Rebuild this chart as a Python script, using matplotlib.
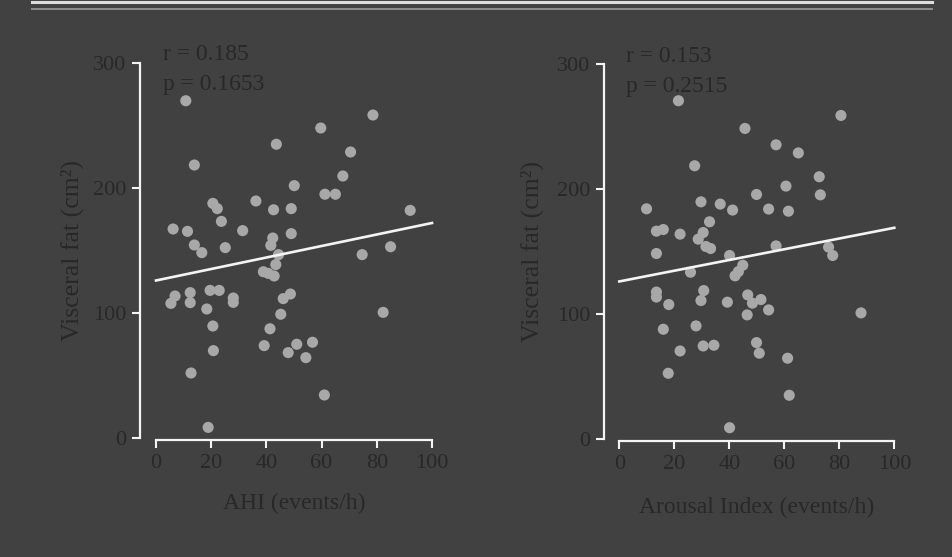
"""Visceral fat vs. AHI and arousal index: two scatter panels on a dark slide."""

import matplotlib

matplotlib.use("Agg")

import matplotlib.pyplot as plt
from matplotlib.lines import Line2D
import numpy as np

# Left panel: AHI (events/h) vs visceral fat (cm2)
ahi = [10.8, 78.6, 59.7, 43.6, 70.5, 13.9, 67.7, 50.1, 61.2, 65.0,
       36.2, 20.6, 22.2, 42.6, 49.0, 92.1, 23.7, 6.2, 11.4, 31.4,
       49.0, 42.3, 41.6, 13.9, 16.6, 25.1, 85.0, 74.7, 44.4, 43.4,
       38.9, 40.7, 42.8, 6.9, 5.4, 12.4, 12.4, 19.6, 22.9, 28.0,
       28.0, 18.4, 46.1, 48.7, 45.2, 82.3, 20.6, 41.3, 20.8, 39.2,
       51.0, 56.7, 47.9, 54.3, 12.7, 61.0, 18.9]
fat_ahi = [269.8, 258.4, 248.0, 235.0, 228.8, 218.4, 209.6, 201.9, 195.0, 195.0,
           189.6, 187.7, 183.5, 182.6, 183.5, 182.1, 173.3, 167.2, 165.3, 165.9,
           163.5, 160.0, 154.1, 154.4, 148.3, 152.3, 153.0, 146.7, 146.7, 138.7,
           133.0, 131.7, 129.6, 113.6, 107.7, 116.3, 108.3, 118.1, 118.1, 112.0,
           108.5, 103.2, 111.5, 115.2, 99.0, 100.5, 89.6, 87.4, 69.9, 73.9,
           75.0, 76.6, 68.3, 64.3, 52.0, 34.4, 8.5]

# Right panel: arousal index (events/h) vs visceral fat (cm2)
arousal = [21.5, 80.6, 45.7, 57.0, 65.1, 27.4, 72.7, 60.6, 73.1, 49.9,
           9.9, 29.7, 36.7, 41.2, 54.3, 61.5, 32.8, 13.5, 16.0, 22.1,
           30.5, 28.7, 31.5, 33.2, 13.5, 57.0, 76.1, 40.1, 77.6, 44.9,
           43.3, 42.1, 25.9, 13.5, 13.5, 18.0, 30.7, 29.7, 39.3, 46.7,
           48.4, 51.5, 46.5, 54.3, 87.9, 16.0, 27.9, 30.5, 34.4, 49.9,
           50.9, 22.1, 61.2, 17.8, 61.8, 40.1]
fat_arousal = [270.8, 259.0, 248.6, 235.5, 229.0, 218.7, 209.9, 202.4, 195.4, 195.7,
               184.2, 189.8, 188.0, 183.2, 184.0, 182.3, 173.8, 166.3, 167.6, 163.9,
               165.2, 159.9, 154.0, 152.4, 148.4, 154.5, 153.5, 146.8, 146.8, 139.0,
               133.9, 130.5, 133.4, 117.5, 113.5, 107.5, 118.7, 110.7, 109.4, 115.2,
               108.6, 111.5, 99.2, 103.2, 100.8, 87.7, 90.4, 74.3, 74.9, 77.0,
               68.5, 70.3, 64.5, 52.4, 34.8, 8.8]

# Regression lines as drawn on the slide (intercept, slope)
fit_ahi = (126.0, 0.46)
fit_arousal = (126.0, 0.43)

stats_ahi = ["r = 0.185", "p = 0.1653"]
stats_arousal = ["r = 0.153", "p = 0.2515"]

x_ticks = [0, 20, 40, 60, 80, 100]
y_ticks = [0, 100, 200, 300]

BG = "#414141"
TEXT = "#282828"
DOT = "#a8a8a8"
LINE = "#f4f4f4"

plt.rcParams["font.family"] = ["Liberation Serif", "DejaVu Serif"]

W, H = 952, 557
fig = plt.figure(figsize=(W / 100, H / 100), dpi=100)
fig.patch.set_facecolor(BG)

# decorative rules along the top of the slide
fig.add_artist(Line2D([32 / W, 932 / W], [1 - 2 / H, 1 - 2 / H],
                      color="#dcdcdc", linewidth=2.2, transform=fig.transFigure))
fig.add_artist(Line2D([32 / W, 932 / W], [1 - 9.3 / H, 1 - 9.3 / H],
                      color="#8e8e8e", linewidth=1.4, transform=fig.transFigure))


def px_rect(left, right, top, bottom):
    return [left / W, 1 - bottom / H, (right - left) / W, (bottom - top) / H]


def draw_panel(rect, xs, ys, fit, stats, xlabel, left_offset, label_x, xlabel_y):
    ax = fig.add_axes(rect)
    ax.set_facecolor("none")
    ax.set_xlim(0, 100)
    ax.set_ylim(0, 300)

    ax.scatter(xs, ys, s=64, color=DOT, edgecolors="none", clip_on=False, zorder=3)
    fx = np.array([0, 100])
    ax.plot(fx, fit[0] + fit[1] * fx, color=LINE, linewidth=1.9, clip_on=False, zorder=4)

    ax.text(2.6, 302, stats[0], fontsize=17, color=TEXT, va="baseline")
    ax.text(2.6, 278, stats[1], fontsize=17, color=TEXT, va="baseline")

    for side in ["top", "right"]:
        ax.spines[side].set_visible(False)
    ax.spines["left"].set_position(("outward", left_offset))
    ax.spines["bottom"].set_position(("outward", 1.4))
    ax.spines["left"].set_bounds(0, 300)
    ax.spines["bottom"].set_bounds(0, 100)
    for side in ["left", "bottom"]:
        ax.spines[side].set_color(LINE)
        ax.spines[side].set_linewidth(1.6)

    ax.set_xticks(x_ticks)
    ax.set_yticks(y_ticks)
    ax.tick_params(colors=LINE, labelcolor=TEXT, labelsize=16, length=6,
                   width=1.5, pad=4)

    ax.set_xlabel(xlabel, fontsize=17, color=TEXT)
    ax.xaxis.set_label_coords(0.5, xlabel_y)
    ax.set_ylabel("Visceral fat (cm²)", fontsize=18.5, color=TEXT)
    ax.yaxis.set_label_coords(label_x, 0.5)
    return ax


draw_panel(px_rect(156, 432, 63, 438), ahi, fat_ahi, fit_ahi, stats_ahi,
           "AHI (events/h)", 11.5, -0.262, -0.147)
draw_panel(px_rect(619.3, 894.3, 64.3, 438.7), arousal, fat_arousal, fit_arousal,
           stats_arousal, "Arousal Index (events/h)", 10.8, -0.272, -0.155)

fig.savefig("out.png", dpi=100, facecolor=BG)
